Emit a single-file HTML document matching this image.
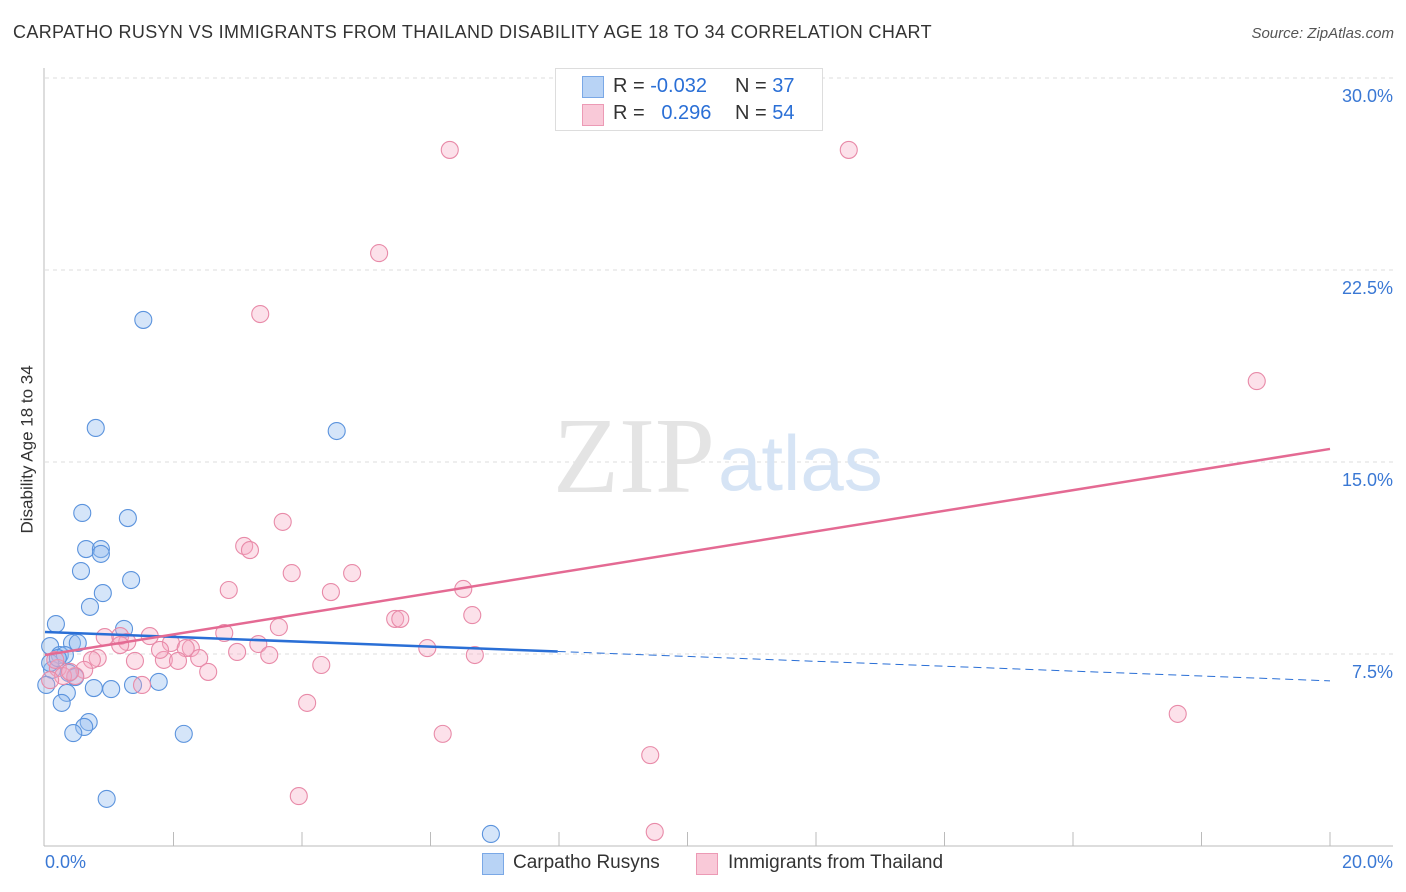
<!DOCTYPE html>
<html><head><meta charset="utf-8"><style>
body{margin:0;background:#fff;font-family:"Liberation Sans",sans-serif;}
#wrap{position:relative;width:1406px;height:892px;overflow:hidden;}
.t{position:absolute;white-space:nowrap;}
</style></head><body>
<div id="wrap">
<div class="t" style="left:13px;top:22px;font-size:18px;letter-spacing:0.35px;color:#333;">CARPATHO RUSYN VS IMMIGRANTS FROM THAILAND DISABILITY AGE 18 TO 34 CORRELATION CHART</div>
<div class="t" style="right:12px;top:25px;font-size:15px;color:#555;font-style:italic;">Source: ZipAtlas.com</div>
<svg id="svg" width="1406" height="892" style="position:absolute;left:0;top:0"></svg>
</div>
<script>
const yTicks=[7.5,15,22.5,30];
const yTickLabels=["7.5%","15.0%","22.5%","30.0%"];
const blueX=[1.53,0.79,4.54,0.58,1.29,0.64,0.87,0.87,0.56,1.34,0.90,0.70,0.17,1.23,0.08,0.42,0.51,0.23,0.31,0.11,0.37,0.47,0.02,0.34,0.76,1.03,1.37,1.77,0.26,0.68,0.61,0.44,2.16,0.96,6.94,0.08,0.20];
const blueY=[20.55,16.33,16.21,13.01,12.81,11.60,11.60,11.41,10.74,10.39,9.88,9.34,8.67,8.48,7.81,7.93,7.93,7.46,7.46,6.88,6.76,6.60,6.29,5.98,6.17,6.13,6.29,6.41,5.59,4.84,4.65,4.41,4.38,1.84,0.47,7.15,7.34];
const pinkX=[6.30,12.51,5.20,3.35,18.86,3.70,3.10,3.19,3.84,4.78,2.86,4.45,6.51,6.65,5.45,5.53,3.64,2.79,1.17,0.93,1.63,1.96,2.27,2.19,3.32,2.99,5.95,6.69,3.49,1.28,0.82,0.73,1.40,1.85,2.07,2.40,4.30,2.54,0.61,0.20,0.47,0.28,0.08,1.51,4.08,17.63,6.19,9.42,3.95,9.49,1.17,0.16,1.79,0.39];
const pinkY=[27.19,27.19,23.16,20.78,18.16,12.66,11.72,11.56,10.66,10.66,10.00,9.92,10.04,9.02,8.87,8.87,8.55,8.32,8.20,8.16,8.20,7.93,7.73,7.73,7.89,7.58,7.73,7.46,7.46,7.97,7.34,7.27,7.23,7.27,7.23,7.34,7.07,6.80,6.88,6.95,6.64,6.64,6.48,6.29,5.59,5.16,4.38,3.55,1.95,0.55,7.85,7.27,7.66,6.80];
const blueTrend=[8.36,6.45]; const blueSolidEnd=7.98;
const pinkTrend=[7.46,15.51];
const X=v=>45+v*64.25, Y=v=>846-v*25.6;
const svg=document.getElementById('svg');const NS='http://www.w3.org/2000/svg';
function mk(tag,attrs,parent){const e=document.createElementNS(NS,tag);for(const k in attrs)e.setAttribute(k,attrs[k]);(parent||svg).appendChild(e);return e;}
yTicks.forEach((t,i)=>{
 const g=mk('line',{x1:45,x2:1393,y1:Y(t),y2:Y(t),stroke:'#ddd','stroke-dasharray':'4,4'});
 
 
 const tx=mk('text',{x:1393,y:Y(t)+24,'text-anchor':'end','font-size':18,fill:'#3a78d4','font-family':'Liberation Sans'});
 tx.textContent=yTickLabels[i];
 
 
});
const ax=mk('line',{x1:44,x2:44,y1:68,y2:846,stroke:'#bbb'});

const bx=mk('line',{x1:44,x2:1393,y1:846,y2:846,stroke:'#bbb'});

for(let k=1;k<=10;k++){const tk=mk('line',{x1:X(2*k),x2:X(2*k),y1:832,y2:846,stroke:'#bbb'});
 }
const wm=mk('text',{x:553,y:492,'font-size':108,fill:'#e4e4e4','font-family':'Liberation Serif'});wm.textContent='ZIP';

const wm2=mk('text',{x:718,y:490,'font-size':78,fill:'#d6e4f5','font-family':'Liberation Sans'});wm2.textContent='atlas';

blueX.forEach((x,i)=>{const c=mk('circle',{cx:X(x),cy:Y(blueY[i]),r:8.5,fill:'rgba(150,190,240,0.4)',stroke:'#5b93dd','stroke-width':1.1});
 });
pinkX.forEach((x,i)=>{const c=mk('circle',{cx:X(x),cy:Y(pinkY[i]),r:8.5,fill:'rgba(245,170,195,0.35)',stroke:'#e88aa8','stroke-width':1.1});
 });
const bs=blueTrend[0]+(blueTrend[1]-blueTrend[0])*blueSolidEnd/20;
const l1=mk('line',{x1:X(0),y1:Y(blueTrend[0]),x2:X(blueSolidEnd),y2:Y(bs),stroke:'#2a6fd6','stroke-width':2.5});

const l2=mk('line',{x1:X(blueSolidEnd),y1:Y(bs),x2:X(20),y2:Y(blueTrend[1]),stroke:'#2a6fd6','stroke-width':1,'stroke-dasharray':'8,5'});

const l3=mk('line',{x1:X(0),y1:Y(pinkTrend[0]),x2:X(20),y2:Y(pinkTrend[1]),stroke:'#e46a93','stroke-width':2.5});

</script>
<div class="t" style="left:45px;top:852px;font-size:18px;color:#3a78d4;">0.0%</div>
<div class="t" style="right:13px;top:852px;font-size:18px;color:#3a78d4;">20.0%</div>
<div class="t" style="left:-50px;top:446px;font-size:17px;color:#333;transform:rotate(-90deg);transform-origin:center;width:155px;text-align:center;">Disability Age 18 to 34</div>
<div style="position:absolute;left:555px;top:68px;width:266px;height:61px;border:1px solid #ddd;background:#fff;font-size:20px;">
 <div style="position:absolute;left:26px;top:7px;width:20px;height:20px;background:#b8d3f5;border:1px solid #7aa8e6;"></div>
 <div class="t" style="left:57px;top:6px;color:#333;">R = <span style="color:#2a6fd6">-0.032</span></div>
 <div class="t" style="left:179px;top:6px;color:#333;">N = <span style="color:#2a6fd6">37</span></div>
 <div style="position:absolute;left:26px;top:35px;width:20px;height:20px;background:#f9c9d8;border:1px solid #ec9ab5;"></div>
 <div class="t" style="left:57px;top:33px;color:#333;">R = <span style="color:#2a6fd6">&nbsp;&nbsp;0.296</span></div>
 <div class="t" style="left:179px;top:33px;color:#333;">N = <span style="color:#2a6fd6">54</span></div>
</div>
<div style="position:absolute;left:482px;top:853px;font-size:19px;color:#333;">
 <div style="position:absolute;left:0;top:0;width:20px;height:20px;background:#b8d3f5;border:1px solid #7aa8e6;"></div>
 <div class="t" style="left:31px;top:-1px;">Carpatho Rusyns</div>
 <div style="position:absolute;left:214px;top:0;width:20px;height:20px;background:#f9c9d8;border:1px solid #ec9ab5;"></div>
 <div class="t" style="left:246px;top:-1px;">Immigrants from Thailand</div>
</div>
</body></html>
